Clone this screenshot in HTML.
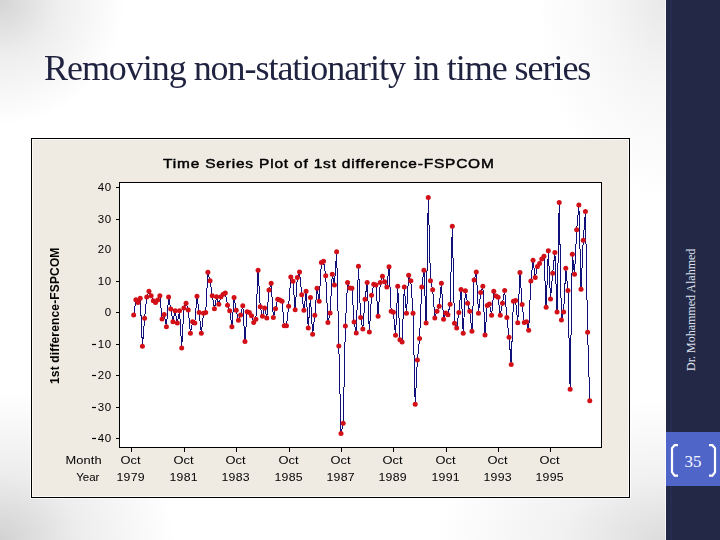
<!DOCTYPE html>
<html><head><meta charset="utf-8">
<style>
html,body{margin:0;padding:0;}
body{width:720px;height:540px;overflow:hidden;position:relative;
background:
 radial-gradient(ellipse 125px 125px at 0px 0px, rgba(212,212,212,1) 0%, rgba(212,212,212,0.4) 45%, rgba(212,212,212,0) 100%),
 radial-gradient(ellipse 175px 150px at 0px 540px, rgba(210,210,210,1) 0%, rgba(210,210,210,0.4) 45%, rgba(210,210,210,0) 100%),
 radial-gradient(ellipse 230px 140px at 666px 540px, rgba(220,220,220,1) 0%, rgba(220,220,220,0.4) 45%, rgba(220,220,220,0) 100%),
 radial-gradient(ellipse 130px 200px at 666px 0px, rgba(232,232,232,1) 0%, rgba(232,232,232,0.4) 45%, rgba(232,232,232,0) 100%),
 #ffffff;
font-family:"Liberation Sans",sans-serif;}
#title{position:absolute;left:43.6px;top:47px;will-change:transform;font-family:"Liberation Serif",serif;font-size:36px;color:#1f2340;white-space:nowrap;letter-spacing:-1.04px;}
#side{position:absolute;left:666px;top:0;width:54px;height:540px;background:#232846;}
#author{position:absolute;left:685px;top:371px;font-family:"Liberation Serif",serif;font-size:12px;line-height:12px;color:#dfe3f0;white-space:nowrap;transform-origin:0 0;transform:rotate(-90deg);}
#pn{position:absolute;left:666px;top:432px;width:54px;height:54px;background:#4f66c8;}
#chart{position:absolute;left:0;top:0;will-change:transform;}
.tk{font-family:"Liberation Sans",sans-serif;font-size:11.5px;letter-spacing:0.3px;fill:#000;}
.ttl{font-family:"Liberation Sans",sans-serif;font-size:13.1px;letter-spacing:0.7px;font-weight:normal;fill:#000;stroke:#000;stroke-width:0.45px;}
.yl{font-family:"Liberation Sans",sans-serif;font-size:12px;letter-spacing:0.15px;font-weight:bold;fill:#000;}
</style></head>
<body>
<div id="title">Removing non-stationarity in time series</div>
<div id="side"></div><div style="position:absolute;left:665px;top:0;width:1px;height:540px;background:rgba(255,255,255,0.7)"></div><div style="position:absolute;left:670px;top:0;width:2px;height:432px;background:#252c50"></div><div style="position:absolute;left:670px;top:486px;width:2px;height:54px;background:#252c50"></div>
<div id="author">Dr. Mohammed Alahmed</div>
<div id="pn"></div>
<svg id="pns" width="54" height="54" viewBox="666 432 54 54" style="position:absolute;left:666px;top:432px;">
<path d="M678 445.2H674.6L672 448.2V472.2L674.6 475.6H678M709 445.2H712.4L715 448.2V472.2L712.4 475.6H709" fill="none" stroke="#fff" stroke-width="2.2"/>
<text x="693" y="466.7" text-anchor="middle" style="font-family:'Liberation Serif',serif;font-size:17px;fill:#f4f5ff;">35</text>
</svg>
<svg id="chart" width="720" height="540" viewBox="0 0 720 540">
<rect x="30.5" y="137.5" width="600" height="361" fill="none" stroke="#fff" stroke-opacity="0.8" stroke-width="1"/><rect x="31.5" y="138.5" width="598" height="359" fill="#efebe2" stroke="#000" stroke-width="1"/>
<rect x="32.5" y="139.5" width="596" height="357" fill="none" stroke="#fdfbf5" stroke-width="1"/>
<rect x="119.5" y="182.5" width="482" height="265" fill="#fff" stroke="#000" stroke-width="1"/>
<path d="M116 438.5H119 M116 407.5H119 M116 375.5H119 M116 344.5H119 M116 312.5H119 M116 281.5H119 M116 219.5H119 M116 187.5H119" stroke="#000" stroke-width="1" fill="none"/>
<path d="M131.5 448V452 M184.5 448V452 M236.5 448V452 M289.5 448V452 M341.5 448V452 M393.5 448V452 M446.5 448V452 M498.5 448V452 M550.5 448V452" stroke="#000" stroke-width="1" fill="none"/>
<text x="111.6" y="442.1" text-anchor="end" class="tk" style="letter-spacing:0.5px">40</text>
<rect x="92" y="437.9" width="4" height="1.2" fill="#000"/>
<text x="111.6" y="411.1" text-anchor="end" class="tk" style="letter-spacing:0.5px">30</text>
<rect x="92" y="406.9" width="4" height="1.2" fill="#000"/>
<text x="111.6" y="379.1" text-anchor="end" class="tk" style="letter-spacing:0.5px">20</text>
<rect x="92" y="374.9" width="4" height="1.2" fill="#000"/>
<text x="111.6" y="348.1" text-anchor="end" class="tk" style="letter-spacing:0.5px">10</text>
<rect x="92" y="343.9" width="4" height="1.2" fill="#000"/>
<text x="111.6" y="316.1" text-anchor="end" class="tk" style="letter-spacing:0.5px">0</text>
<text x="111.6" y="285.1" text-anchor="end" class="tk" style="letter-spacing:0.5px">10</text>
<text x="111.6" y="253.1" text-anchor="end" class="tk" style="letter-spacing:0.5px">20</text>
<text x="111.6" y="223.1" text-anchor="end" class="tk" style="letter-spacing:0.5px">30</text>
<text x="111.6" y="191.1" text-anchor="end" class="tk" style="letter-spacing:0.5px">40</text>
<text transform="translate(120.4 463.8) scale(1.12 1)" class="tk" style="letter-spacing:0.1px">Oct</text>
<text transform="translate(116.4 480.6) scale(1.07 1)" class="tk" style="letter-spacing:0.3px">1979</text>
<text transform="translate(173.4 463.8) scale(1.12 1)" class="tk" style="letter-spacing:0.1px">Oct</text>
<text transform="translate(169.4 480.6) scale(1.07 1)" class="tk" style="letter-spacing:0.3px">1981</text>
<text transform="translate(225.4 463.8) scale(1.12 1)" class="tk" style="letter-spacing:0.1px">Oct</text>
<text transform="translate(221.4 480.6) scale(1.07 1)" class="tk" style="letter-spacing:0.3px">1983</text>
<text transform="translate(278.4 463.8) scale(1.12 1)" class="tk" style="letter-spacing:0.1px">Oct</text>
<text transform="translate(274.4 480.6) scale(1.07 1)" class="tk" style="letter-spacing:0.3px">1985</text>
<text transform="translate(330.4 463.8) scale(1.12 1)" class="tk" style="letter-spacing:0.1px">Oct</text>
<text transform="translate(326.4 480.6) scale(1.07 1)" class="tk" style="letter-spacing:0.3px">1987</text>
<text transform="translate(382.4 463.8) scale(1.12 1)" class="tk" style="letter-spacing:0.1px">Oct</text>
<text transform="translate(378.4 480.6) scale(1.07 1)" class="tk" style="letter-spacing:0.3px">1989</text>
<text transform="translate(435.4 463.8) scale(1.12 1)" class="tk" style="letter-spacing:0.1px">Oct</text>
<text transform="translate(431.4 480.6) scale(1.07 1)" class="tk" style="letter-spacing:0.3px">1991</text>
<text transform="translate(487.4 463.8) scale(1.12 1)" class="tk" style="letter-spacing:0.1px">Oct</text>
<text transform="translate(483.4 480.6) scale(1.07 1)" class="tk" style="letter-spacing:0.3px">1993</text>
<text transform="translate(539.4 463.8) scale(1.12 1)" class="tk" style="letter-spacing:0.1px">Oct</text>
<text transform="translate(535.4 480.6) scale(1.07 1)" class="tk" style="letter-spacing:0.3px">1995</text>
<text transform="translate(65.6 463.8) scale(1.12 1)" class="tk" style="letter-spacing:0.05px">Month</text>
<text x="76.2" y="480.6" class="tk" style="letter-spacing:0px">Year</text>
<text transform="translate(163 168.3) scale(1.18 1)" x="0" y="0" class="ttl">Time Series Plot of 1st difference-FSPCOM</text>
<text transform="translate(58.5 384) rotate(-90)" x="0" y="0" class="yl">1st difference-FSPCOM</text>
<polyline points="133.68,315.00 135.86,299.70 138.05,302.50 140.23,298.30 142.41,346.30 144.59,318.30 146.78,297.00 148.96,291.30 151.14,295.80 153.32,300.80 155.51,302.50 157.69,300.00 159.87,295.80 162.05,319.00 164.23,314.50 166.42,326.70 168.60,297.00 170.78,309.00 172.96,321.70 175.15,310.80 177.33,323.00 179.51,310.80 181.69,348.00 183.88,308.00 186.06,303.30 188.24,310.00 190.42,333.30 192.60,321.70 194.79,323.00 196.97,296.20 199.15,312.50 201.33,333.30 203.52,313.30 205.70,312.50 207.88,272.30 210.06,280.80 212.25,295.80 214.43,308.70 216.61,296.70 218.79,304.20 220.97,296.70 223.16,294.20 225.34,293.00 227.52,305.30 229.70,310.80 231.89,326.70 234.07,297.50 236.25,310.30 238.43,320.30 240.62,315.00 242.80,305.80 244.98,341.50 247.16,311.70 249.34,312.50 251.53,315.80 253.71,322.50 255.89,319.20 258.07,270.30 260.26,306.70 262.44,316.30 264.62,308.00 266.80,318.00 268.98,290.00 271.17,283.30 273.35,317.50 275.53,308.70 277.71,299.20 279.90,300.00 282.08,301.20 284.26,325.80 286.44,325.80 288.63,306.30 290.81,277.00 292.99,281.30 295.17,309.70 297.35,277.50 299.54,272.00 301.72,294.70 303.90,310.30 306.08,291.30 308.27,328.00 310.45,297.50 312.63,334.20 314.81,315.30 317.00,288.30 319.18,301.30 321.36,262.50 323.54,261.30 325.72,275.80 327.91,322.50 330.09,313.00 332.27,274.20 334.45,285.00 336.64,251.70 338.82,346.00 341.00,433.40 343.18,423.30 345.37,326.00 347.55,282.50 349.73,288.00 351.91,288.30 354.09,322.00 356.28,333.10 358.46,266.30 360.64,317.50 362.82,329.10 365.01,299.20 367.19,282.50 369.37,332.00 371.55,295.30 373.74,284.20 375.92,285.00 378.10,316.30 380.28,282.50 382.46,276.30 384.65,281.70 386.83,287.00 389.01,266.70 391.19,311.30 393.38,312.30 395.56,335.30 397.74,286.30 399.92,339.70 402.11,342.00 404.29,287.00 406.47,313.30 408.65,275.30 410.83,280.80 413.02,313.30 415.20,404.20 417.38,360.00 419.56,338.50 421.75,287.00 423.93,270.30 426.11,323.00 428.29,197.50 430.48,280.80 432.66,289.70 434.84,318.00 437.02,311.30 439.20,306.30 441.39,283.30 443.57,319.20 445.75,313.00 447.93,314.70 450.12,304.20 452.30,226.30 454.48,323.30 456.66,328.00 458.85,312.50 461.03,289.50 463.21,333.20 465.39,290.80 467.57,303.30 469.76,311.30 471.94,331.30 474.12,280.00 476.30,272.00 478.49,313.30 480.67,292.50 482.85,286.30 485.03,335.00 487.21,305.50 489.40,303.90 491.58,315.30 493.76,291.30 495.94,296.10 498.13,297.20 500.31,315.30 502.49,303.30 504.67,290.50 506.86,317.60 509.04,337.30 511.22,364.50 513.40,301.30 515.58,300.50 517.77,322.80 519.95,272.50 522.13,304.40 524.31,322.50 526.50,321.70 528.68,330.30 530.86,280.90 533.04,260.20 535.23,277.50 537.41,266.50 539.59,263.50 541.77,259.00 543.95,256.20 546.14,307.30 548.32,250.80 550.50,299.00 552.68,273.30 554.87,252.40 557.05,312.00 559.23,202.50 561.41,320.00 563.60,312.10 565.78,268.20 567.96,290.40 570.14,389.20 572.32,254.20 574.51,274.20 576.69,229.70 578.87,205.00 581.05,289.30 583.24,240.20 585.42,211.40 587.60,332.30 589.78,400.80" fill="none" stroke="#10107a" stroke-width="1" stroke-linejoin="miter" shape-rendering="crispEdges"/>
<g fill="#d31018"><circle cx="133.68" cy="315.00" r="2.5"/><circle cx="135.86" cy="299.70" r="2.5"/><circle cx="138.05" cy="302.50" r="2.5"/><circle cx="140.23" cy="298.30" r="2.5"/><circle cx="142.41" cy="346.30" r="2.5"/><circle cx="144.59" cy="318.30" r="2.5"/><circle cx="146.78" cy="297.00" r="2.5"/><circle cx="148.96" cy="291.30" r="2.5"/><circle cx="151.14" cy="295.80" r="2.5"/><circle cx="153.32" cy="300.80" r="2.5"/><circle cx="155.51" cy="302.50" r="2.5"/><circle cx="157.69" cy="300.00" r="2.5"/><circle cx="159.87" cy="295.80" r="2.5"/><circle cx="162.05" cy="319.00" r="2.5"/><circle cx="164.23" cy="314.50" r="2.5"/><circle cx="166.42" cy="326.70" r="2.5"/><circle cx="168.60" cy="297.00" r="2.5"/><circle cx="170.78" cy="309.00" r="2.5"/><circle cx="172.96" cy="321.70" r="2.5"/><circle cx="175.15" cy="310.80" r="2.5"/><circle cx="177.33" cy="323.00" r="2.5"/><circle cx="179.51" cy="310.80" r="2.5"/><circle cx="181.69" cy="348.00" r="2.5"/><circle cx="183.88" cy="308.00" r="2.5"/><circle cx="186.06" cy="303.30" r="2.5"/><circle cx="188.24" cy="310.00" r="2.5"/><circle cx="190.42" cy="333.30" r="2.5"/><circle cx="192.60" cy="321.70" r="2.5"/><circle cx="194.79" cy="323.00" r="2.5"/><circle cx="196.97" cy="296.20" r="2.5"/><circle cx="199.15" cy="312.50" r="2.5"/><circle cx="201.33" cy="333.30" r="2.5"/><circle cx="203.52" cy="313.30" r="2.5"/><circle cx="205.70" cy="312.50" r="2.5"/><circle cx="207.88" cy="272.30" r="2.5"/><circle cx="210.06" cy="280.80" r="2.5"/><circle cx="212.25" cy="295.80" r="2.5"/><circle cx="214.43" cy="308.70" r="2.5"/><circle cx="216.61" cy="296.70" r="2.5"/><circle cx="218.79" cy="304.20" r="2.5"/><circle cx="220.97" cy="296.70" r="2.5"/><circle cx="223.16" cy="294.20" r="2.5"/><circle cx="225.34" cy="293.00" r="2.5"/><circle cx="227.52" cy="305.30" r="2.5"/><circle cx="229.70" cy="310.80" r="2.5"/><circle cx="231.89" cy="326.70" r="2.5"/><circle cx="234.07" cy="297.50" r="2.5"/><circle cx="236.25" cy="310.30" r="2.5"/><circle cx="238.43" cy="320.30" r="2.5"/><circle cx="240.62" cy="315.00" r="2.5"/><circle cx="242.80" cy="305.80" r="2.5"/><circle cx="244.98" cy="341.50" r="2.5"/><circle cx="247.16" cy="311.70" r="2.5"/><circle cx="249.34" cy="312.50" r="2.5"/><circle cx="251.53" cy="315.80" r="2.5"/><circle cx="253.71" cy="322.50" r="2.5"/><circle cx="255.89" cy="319.20" r="2.5"/><circle cx="258.07" cy="270.30" r="2.5"/><circle cx="260.26" cy="306.70" r="2.5"/><circle cx="262.44" cy="316.30" r="2.5"/><circle cx="264.62" cy="308.00" r="2.5"/><circle cx="266.80" cy="318.00" r="2.5"/><circle cx="268.98" cy="290.00" r="2.5"/><circle cx="271.17" cy="283.30" r="2.5"/><circle cx="273.35" cy="317.50" r="2.5"/><circle cx="275.53" cy="308.70" r="2.5"/><circle cx="277.71" cy="299.20" r="2.5"/><circle cx="279.90" cy="300.00" r="2.5"/><circle cx="282.08" cy="301.20" r="2.5"/><circle cx="284.26" cy="325.80" r="2.5"/><circle cx="286.44" cy="325.80" r="2.5"/><circle cx="288.63" cy="306.30" r="2.5"/><circle cx="290.81" cy="277.00" r="2.5"/><circle cx="292.99" cy="281.30" r="2.5"/><circle cx="295.17" cy="309.70" r="2.5"/><circle cx="297.35" cy="277.50" r="2.5"/><circle cx="299.54" cy="272.00" r="2.5"/><circle cx="301.72" cy="294.70" r="2.5"/><circle cx="303.90" cy="310.30" r="2.5"/><circle cx="306.08" cy="291.30" r="2.5"/><circle cx="308.27" cy="328.00" r="2.5"/><circle cx="310.45" cy="297.50" r="2.5"/><circle cx="312.63" cy="334.20" r="2.5"/><circle cx="314.81" cy="315.30" r="2.5"/><circle cx="317.00" cy="288.30" r="2.5"/><circle cx="319.18" cy="301.30" r="2.5"/><circle cx="321.36" cy="262.50" r="2.5"/><circle cx="323.54" cy="261.30" r="2.5"/><circle cx="325.72" cy="275.80" r="2.5"/><circle cx="327.91" cy="322.50" r="2.5"/><circle cx="330.09" cy="313.00" r="2.5"/><circle cx="332.27" cy="274.20" r="2.5"/><circle cx="334.45" cy="285.00" r="2.5"/><circle cx="336.64" cy="251.70" r="2.5"/><circle cx="338.82" cy="346.00" r="2.5"/><circle cx="341.00" cy="433.40" r="2.5"/><circle cx="343.18" cy="423.30" r="2.5"/><circle cx="345.37" cy="326.00" r="2.5"/><circle cx="347.55" cy="282.50" r="2.5"/><circle cx="349.73" cy="288.00" r="2.5"/><circle cx="351.91" cy="288.30" r="2.5"/><circle cx="354.09" cy="322.00" r="2.5"/><circle cx="356.28" cy="333.10" r="2.5"/><circle cx="358.46" cy="266.30" r="2.5"/><circle cx="360.64" cy="317.50" r="2.5"/><circle cx="362.82" cy="329.10" r="2.5"/><circle cx="365.01" cy="299.20" r="2.5"/><circle cx="367.19" cy="282.50" r="2.5"/><circle cx="369.37" cy="332.00" r="2.5"/><circle cx="371.55" cy="295.30" r="2.5"/><circle cx="373.74" cy="284.20" r="2.5"/><circle cx="375.92" cy="285.00" r="2.5"/><circle cx="378.10" cy="316.30" r="2.5"/><circle cx="380.28" cy="282.50" r="2.5"/><circle cx="382.46" cy="276.30" r="2.5"/><circle cx="384.65" cy="281.70" r="2.5"/><circle cx="386.83" cy="287.00" r="2.5"/><circle cx="389.01" cy="266.70" r="2.5"/><circle cx="391.19" cy="311.30" r="2.5"/><circle cx="393.38" cy="312.30" r="2.5"/><circle cx="395.56" cy="335.30" r="2.5"/><circle cx="397.74" cy="286.30" r="2.5"/><circle cx="399.92" cy="339.70" r="2.5"/><circle cx="402.11" cy="342.00" r="2.5"/><circle cx="404.29" cy="287.00" r="2.5"/><circle cx="406.47" cy="313.30" r="2.5"/><circle cx="408.65" cy="275.30" r="2.5"/><circle cx="410.83" cy="280.80" r="2.5"/><circle cx="413.02" cy="313.30" r="2.5"/><circle cx="415.20" cy="404.20" r="2.5"/><circle cx="417.38" cy="360.00" r="2.5"/><circle cx="419.56" cy="338.50" r="2.5"/><circle cx="421.75" cy="287.00" r="2.5"/><circle cx="423.93" cy="270.30" r="2.5"/><circle cx="426.11" cy="323.00" r="2.5"/><circle cx="428.29" cy="197.50" r="2.5"/><circle cx="430.48" cy="280.80" r="2.5"/><circle cx="432.66" cy="289.70" r="2.5"/><circle cx="434.84" cy="318.00" r="2.5"/><circle cx="437.02" cy="311.30" r="2.5"/><circle cx="439.20" cy="306.30" r="2.5"/><circle cx="441.39" cy="283.30" r="2.5"/><circle cx="443.57" cy="319.20" r="2.5"/><circle cx="445.75" cy="313.00" r="2.5"/><circle cx="447.93" cy="314.70" r="2.5"/><circle cx="450.12" cy="304.20" r="2.5"/><circle cx="452.30" cy="226.30" r="2.5"/><circle cx="454.48" cy="323.30" r="2.5"/><circle cx="456.66" cy="328.00" r="2.5"/><circle cx="458.85" cy="312.50" r="2.5"/><circle cx="461.03" cy="289.50" r="2.5"/><circle cx="463.21" cy="333.20" r="2.5"/><circle cx="465.39" cy="290.80" r="2.5"/><circle cx="467.57" cy="303.30" r="2.5"/><circle cx="469.76" cy="311.30" r="2.5"/><circle cx="471.94" cy="331.30" r="2.5"/><circle cx="474.12" cy="280.00" r="2.5"/><circle cx="476.30" cy="272.00" r="2.5"/><circle cx="478.49" cy="313.30" r="2.5"/><circle cx="480.67" cy="292.50" r="2.5"/><circle cx="482.85" cy="286.30" r="2.5"/><circle cx="485.03" cy="335.00" r="2.5"/><circle cx="487.21" cy="305.50" r="2.5"/><circle cx="489.40" cy="303.90" r="2.5"/><circle cx="491.58" cy="315.30" r="2.5"/><circle cx="493.76" cy="291.30" r="2.5"/><circle cx="495.94" cy="296.10" r="2.5"/><circle cx="498.13" cy="297.20" r="2.5"/><circle cx="500.31" cy="315.30" r="2.5"/><circle cx="502.49" cy="303.30" r="2.5"/><circle cx="504.67" cy="290.50" r="2.5"/><circle cx="506.86" cy="317.60" r="2.5"/><circle cx="509.04" cy="337.30" r="2.5"/><circle cx="511.22" cy="364.50" r="2.5"/><circle cx="513.40" cy="301.30" r="2.5"/><circle cx="515.58" cy="300.50" r="2.5"/><circle cx="517.77" cy="322.80" r="2.5"/><circle cx="519.95" cy="272.50" r="2.5"/><circle cx="522.13" cy="304.40" r="2.5"/><circle cx="524.31" cy="322.50" r="2.5"/><circle cx="526.50" cy="321.70" r="2.5"/><circle cx="528.68" cy="330.30" r="2.5"/><circle cx="530.86" cy="280.90" r="2.5"/><circle cx="533.04" cy="260.20" r="2.5"/><circle cx="535.23" cy="277.50" r="2.5"/><circle cx="537.41" cy="266.50" r="2.5"/><circle cx="539.59" cy="263.50" r="2.5"/><circle cx="541.77" cy="259.00" r="2.5"/><circle cx="543.95" cy="256.20" r="2.5"/><circle cx="546.14" cy="307.30" r="2.5"/><circle cx="548.32" cy="250.80" r="2.5"/><circle cx="550.50" cy="299.00" r="2.5"/><circle cx="552.68" cy="273.30" r="2.5"/><circle cx="554.87" cy="252.40" r="2.5"/><circle cx="557.05" cy="312.00" r="2.5"/><circle cx="559.23" cy="202.50" r="2.5"/><circle cx="561.41" cy="320.00" r="2.5"/><circle cx="563.60" cy="312.10" r="2.5"/><circle cx="565.78" cy="268.20" r="2.5"/><circle cx="567.96" cy="290.40" r="2.5"/><circle cx="570.14" cy="389.20" r="2.5"/><circle cx="572.32" cy="254.20" r="2.5"/><circle cx="574.51" cy="274.20" r="2.5"/><circle cx="576.69" cy="229.70" r="2.5"/><circle cx="578.87" cy="205.00" r="2.5"/><circle cx="581.05" cy="289.30" r="2.5"/><circle cx="583.24" cy="240.20" r="2.5"/><circle cx="585.42" cy="211.40" r="2.5"/><circle cx="587.60" cy="332.30" r="2.5"/><circle cx="589.78" cy="400.80" r="2.5"/></g>
</svg>
</body></html>
